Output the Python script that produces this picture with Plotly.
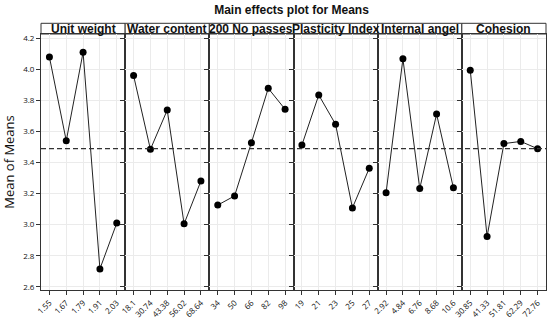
import plotly.graph_objects as go
from plotly.subplots import make_subplots

factors = ["Unit weight", "Water content", "200 No passes", "Plasticity Index", "Internal angel", "Cohesion"]

unit_weight_levels = ["1.55", "1.67", "1.79", "1.91", "2.03"]
unit_weight_means = [4.08, 3.54, 4.11, 2.715, 3.01]

water_content_levels = ["18.1", "30.74", "43.38", "56.02", "68.64"]
water_content_means = [3.96, 3.485, 3.738, 3.005, 3.281]

passes_levels = ["34", "50", "66", "82", "98"]
passes_means = [3.126, 3.185, 3.528, 3.878, 3.743]

plasticity_levels = ["19", "21", "23", "25", "27"]
plasticity_means = [3.513, 3.835, 3.646, 3.108, 3.363]

angle_levels = ["2.92", "4.84", "6.76", "8.68", "10.6"]
angle_means = [3.206, 4.068, 3.232, 3.712, 3.237]

cohesion_levels = ["30.85", "41.33", "51.81", "62.29", "72.76"]
cohesion_means = [3.995, 2.923, 3.522, 3.536, 3.489]

grand_mean = 3.49
y_ticks = [2.6, 2.8, 3.0, 3.2, 3.4, 3.6, 3.8, 4.0, 4.2]

levels = [unit_weight_levels, water_content_levels, passes_levels,
          plasticity_levels, angle_levels, cohesion_levels]
means = [unit_weight_means, water_content_means, passes_means,
         plasticity_means, angle_means, cohesion_means]

fig = make_subplots(rows=1, cols=6, shared_yaxes=True, horizontal_spacing=0)

W, H = 550, 321
ml, mr, mt, mb = 41, 4, 34, 31
plot_h = H - mt - mb
strip_h = 10.7 / plot_h

line_col = "#333333"
grid_col = "#ebebeb"

for i, (lv, mv) in enumerate(zip(levels, means), start=1):
    pos = list(range(1, len(lv) + 1))
    fig.add_trace(go.Scatter(
        x=pos, y=mv, mode="lines+markers",
        line=dict(color="#222222", width=1),
        marker=dict(color="black", size=7),
        showlegend=False, hoverinfo="skip"), row=1, col=i)
    fig.update_xaxes(
        range=[0.5, 5.5], tickvals=pos, ticktext=lv, tickangle=-45,
        tickfont=dict(family="Open Sans, sans-serif", size=8, color="#111"),
        ticks="outside", ticklen=4, tickcolor=line_col,
        showgrid=True, gridcolor=grid_col, gridwidth=1,
        showline=True, linecolor=line_col, linewidth=1, mirror=True,
        zeroline=False, automargin=False, row=1, col=i)
    xd = "x domain" if i == 1 else f"x{i} domain"
    fig.add_shape(type="rect", xref=xd, yref="paper", x0=0, x1=1,
                  y0=1, y1=1 + strip_h, line=dict(color=line_col, width=1),
                  fillcolor="white", layer="below")
    fig.add_annotation(text=f"<b>{factors[i-1]}</b>", xref=xd, yref="paper",
                       x=0.5, y=1 + strip_h / 2, showarrow=False,
                       xanchor="center", yanchor="middle",
                       font=dict(family="Liberation Sans, Arial", size=12, color="#111"))

fig.update_yaxes(
    range=[2.579, 4.228], tickvals=y_ticks, tickformat=".1f",
    tickfont=dict(family="Open Sans, sans-serif", size=8, color="#111"),
    ticks="outside", ticklen=4, tickcolor=line_col,
    showgrid=True, gridcolor=grid_col, gridwidth=1,
    showline=True, linecolor=line_col, linewidth=1, mirror=True,
    zeroline=False, automargin=False)
fig.update_yaxes(title=dict(text="Mean of Means",
                            font=dict(family="Open Sans, sans-serif", size=13, color="#111"),
                            standoff=6), row=1, col=1)

fig.add_shape(type="line", xref="paper", yref="y", x0=0, x1=1,
              y0=grand_mean, y1=grand_mean,
              line=dict(color="#333333", width=1.2, dash="5px,3px"))

fig.update_layout(
    width=W, height=H,
    margin=dict(l=ml, r=mr, t=mt, b=mb),
    paper_bgcolor="white", plot_bgcolor="white",
    title=dict(text="<b>Main effects plot for Means</b>", x=0.53, xanchor="center",
               y=1 - 10 / H, yanchor="middle",
               font=dict(family="Liberation Sans, Arial", size=12, color="#111")),
)

fig.write_html("out.html", config={"displayModeBar": False},
               post_script="document.body.style.margin='0';")
